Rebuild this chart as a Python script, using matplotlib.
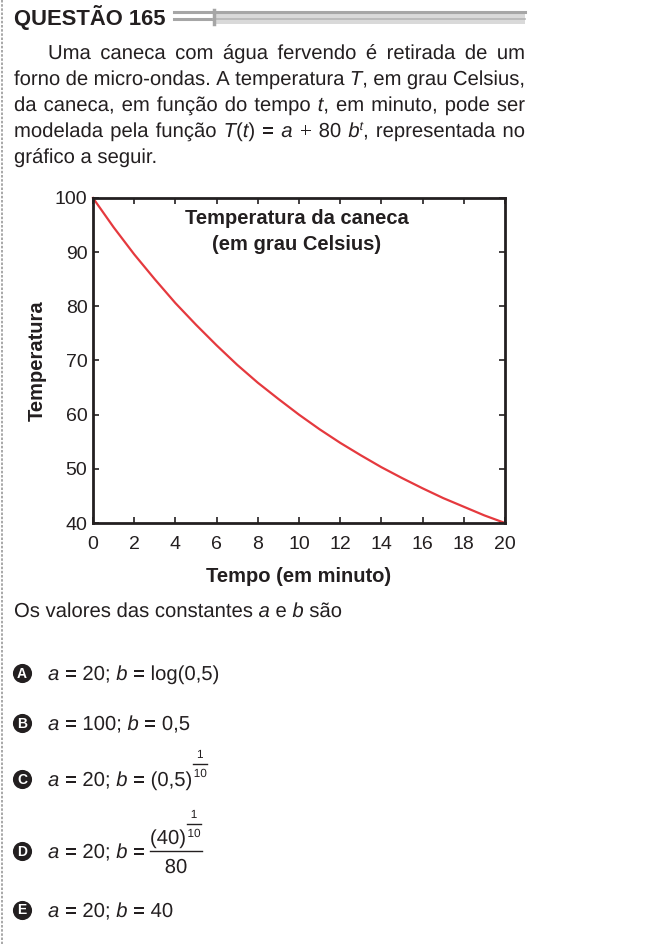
import re
import matplotlib
matplotlib.use("Agg")
import matplotlib.pyplot as plt
from matplotlib.textpath import TextPath, text_to_path
from matplotlib.patches import PathPatch
from matplotlib.font_manager import FontProperties
from matplotlib.transforms import Affine2D

plt.rcParams["font.family"] = ["Liberation Sans", "DejaVu Sans"]

# --- dados ---
tempo = [0, 1, 2, 3, 4, 5, 6, 7, 8, 9, 10,
         11, 12, 13, 14, 15, 16, 17, 18, 19, 20]
temperatura = [100.0, 94.6, 89.6, 85.0, 80.6, 76.6, 72.8, 69.2, 65.9, 62.9, 60.0,
               57.3, 54.8, 52.5, 50.3, 48.3, 46.4, 44.6, 43.0, 41.4, 40.0]
xticks = list(range(0, 21, 2))
yticks = list(range(40, 101, 10))

paragrafo = [
    "Uma caneca com água fervendo é retirada de um",
    "forno de micro-ondas. A temperatura *T*, em grau Celsius,",
    "da caneca, em função do tempo *t*, em minuto, pode ser",
    "modelada pela função *T*(*t*) = *a* + 80 *b*^t^, representada no",
    "gráfico a seguir.",
]
pergunta = "Os valores das constantes *a* e *b* são"
letras = ["A", "B", "C", "D", "E"]
alternativas = [
    "*a* = 20; *b* = log(0,5)",
    "*a* = 100; *b* = 0,5",
    "*a* = 20; *b* = (0,5)",
    "*a* = 20; *b* =",
    "*a* = 20; *b* = 40",
]
alt_y = [673, 723, 779, 851, 910]

COR = "#231f20"
FS = 14.6
PX = 100 / 72

fig = plt.figure(figsize=(6.64, 9.44), dpi=100)
bg = fig.add_axes([0, 0, 1, 1])
bg.set_xlim(0, 664)
bg.set_ylim(944, 0)
bg.axis("off")


def fonte(estilo, tam):
    fp = FontProperties(family="Liberation Sans", style=estilo)
    fp.set_size(tam)
    return fp


def largura(txt, estilo="normal", tam=FS):
    w, _, _ = text_to_path.get_text_width_height_descent(txt, fonte(estilo, tam), ismath=False)
    return w * PX


def escreve(x, y, txt, estilo="normal", tam=FS, ha="left"):
    # texto como contorno, para a linha de base ficar exata
    if ha == "center":
        x = x - largura(txt, estilo, tam) / 2
    tp = TextPath((0, 0), txt, size=tam, prop=fonte(estilo, tam))
    path = Affine2D().scale(PX, -PX).translate(x, y).transform_path(tp)
    bg.add_patch(PathPatch(path, fc=COR, lw=0))


def segmentos(palavra):
    partes = re.split(r"(\*[^*]+\*|\^[^^]+\^)", palavra)
    out = []
    for p in partes:
        if not p:
            continue
        if p.startswith("*"):
            out.append((p[1:-1], "italic", FS, 0))
        elif p.startswith("^"):
            out.append((p[1:-1], "italic", 9, -7))
        else:
            out.append((p, "normal", FS, 0))
    return out


ESP = largura("a a") - 2 * largura("a")


def linha(texto, x0, y, x1=None):
    palavras = [segmentos(w) for w in texto.split(" ")]
    larg = [[largura(s[0], s[1], s[2]) for s in p] for p in palavras]
    tot = sum(sum(l) for l in larg)
    espaco = ESP
    if x1 is not None and len(palavras) > 1:
        espaco = (x1 - x0 - tot) / (len(palavras) - 1)
    x = x0
    for p, l in zip(palavras, larg):
        for s, w in zip(p, l):
            escreve(x, y + s[3], s[0], s[1], s[2])
            x += w
        x += espaco
    return x - espaco


def fracao(xc, y_bar, num, den, tam, larg_barra):
    bg.plot([xc - larg_barra / 2, xc + larg_barra / 2], [y_bar, y_bar],
            color=COR, lw=1.0)
    escreve(xc, y_bar - 6, num, tam=tam, ha="center")
    escreve(xc, y_bar + 13, den, tam=tam, ha="center")


# --- cabecalho ---
bg.text(14, 25, "QUESTÃO 165", fontsize=15.8, fontweight="bold",
        va="baseline", color=COR)
bg.fill_between([213, 525], 13, 24, color="#d9d9d9", lw=0)
bg.plot([174, 525], [11.5, 11.5], color="#a6a6a6", lw=2.2)
bg.plot([174, 213], [19, 19], color="#a6a6a6", lw=2.2)
bg.plot([213, 525], [19, 19], color="#b5b5b5", lw=1.2)
bg.plot([214, 214], [10, 24], color="#a6a6a6", lw=2.5)
bg.plot([2, 2], [0, 944], color="#9a9a9a", lw=1.2, ls=(0, (1.5, 1)))

# --- enunciado ---
base_y = [59, 85, 111, 137, 163]
for i, (txt, y) in enumerate(zip(paragrafo, base_y)):
    x0 = 48 if i == 0 else 14
    x1 = 525 if i < len(paragrafo) - 1 else None
    linha(txt, x0, y, x1)

# --- grafico ---
ax = fig.add_axes([93 / 664, 1 - 523 / 944, 412 / 664, 325 / 944])
ax.plot(tempo, temperatura, color="#e5393e", lw=1.6, clip_on=False)
ax.set_xlim(0, 20)
ax.set_ylim(40, 100)
ax.set_xticks(xticks)
ax.set_yticks(yticks)
ax.tick_params(direction="in", top=True, right=True, length=4.5, width=1.2,
               labelsize=14, colors=COR)
ax.tick_params(axis="x", pad=9.5)
ax.tick_params(axis="y", pad=4)
for sp in ax.spines.values():
    sp.set_linewidth(2)
    sp.set_color(COR)
ax.text(9.9, 96.3, "Temperatura da caneca", fontsize=14.5, fontweight="bold",
        ha="center", va="center", color=COR)
ax.text(9.9, 91.5, "(em grau Celsius)", fontsize=14.5, fontweight="bold",
        ha="center", va="center", color=COR)
ax.set_xlabel("Tempo (em minuto)", fontsize=14.5, fontweight="bold",
              color=COR, labelpad=10)
ax.set_ylabel("Temperatura", fontsize=14.5, fontweight="bold",
              color=COR, labelpad=6)

# --- alternativas ---
linha(pergunta, 14, 617)
bg.scatter([22] * len(letras), alt_y, s=190, color=COR, zorder=3, lw=0)
for k, (letra, y, alt) in enumerate(zip(letras, alt_y, alternativas)):
    bg.text(22, y + 0.5, letra, fontsize=10, fontweight="bold", color="white",
            ha="center", va="center", zorder=4)
    if k == 3:
        xf = linha(alt, 48, y + 7) + 5
        xe = xf + largura("(40)")
        escreve(xf, y - 7, "(40)")
        fracao(xe + 8, y - 27, "1", "10", 8.5, 14)
        bg.plot([xf, xe + 16], [y, y], color=COR, lw=1.0)
        escreve((xf + xe + 16) / 2, y + 22, "80", ha="center")
    else:
        xe = linha(alt, 48, y + 7)
        if k == 2:
            fracao(xe + 8, y - 15, "1", "10", 8.5, 14)

fig.savefig("out.png", dpi=100)
